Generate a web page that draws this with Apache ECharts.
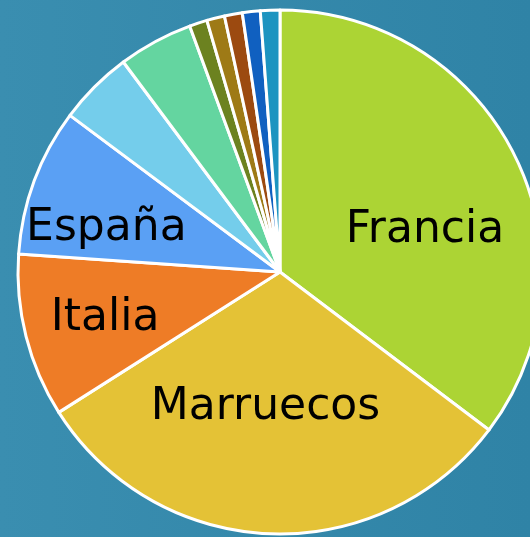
<!DOCTYPE html>
<html>
<head>
<meta charset="utf-8">
<script src="https://cdn.jsdelivr.net/npm/echarts@6/dist/echarts.min.js"></script>
<style>
html,body{margin:0;padding:0;background:#3489ab;}
#chart{width:530px;height:537px;}
</style>
</head>
<body>
<div id="chart"></div>
<script>
// Data (percent shares)
const countries = ['Francia', 'Marruecos', 'Italia', 'España', 'Otro 1', 'Otro 2', 'Otro 3', 'Otro 4', 'Otro 5', 'Otro 6', 'Otro 7'];
const shares = [35.3, 30.7, 10.1, 9.1, 4.6, 4.6, 1.1, 1.1, 1.1, 1.1, 1.2];
const labelled = ['Francia', 'Marruecos', 'Italia', 'España'];

const colors = ['#acd434', '#e4c236', '#ee7c26', '#5aa0f4', '#74cdeb', '#64d5a0', '#6c8220', '#9e7a16', '#9c4a10', '#1060c0', '#1d94c0'];
const labelShift = { 'Francia': [25, 18], 'Marruecos': [-9, 2], 'Italia': [-45, 14], 'España': [-48, 3] };

const chart = echarts.init(document.getElementById('chart'), null, { renderer: 'canvas' });
chart.setOption({
  backgroundColor: {
    type: 'linear', x: 0, y: 0, x2: 1, y2: 0,
    colorStops: [{ offset: 0, color: '#3a8eb0' }, { offset: 1, color: '#2f83a6' }]
  },
  animation: false,
  series: [{
    type: 'pie',
    center: [280, 272],
    radius: [0, 262],
    startAngle: 90,
    clockwise: true,
    avoidLabelOverlap: false,
    itemStyle: { borderColor: '#ffffff', borderWidth: 3 },
    label: {
      show: true,
      position: 'inside',
      color: '#000000',
      fontFamily: 'DejaVu Sans',
      fontSize: 44,
      fontWeight: 'normal',
      formatter: p => labelled.includes(p.name) ? p.name : ''
    },
    labelLine: { show: false },
    emphasis: { disabled: true },
    labelLayout: function (params) {
      const name = countries[params.dataIndex];
      const s = labelShift[name];
      return s ? { dx: s[0], dy: s[1] } : {};
    },
    data: countries.map((c, i) => ({ name: c, value: shares[i], itemStyle: { color: colors[i] } }))
  }]
});
</script>
</body>
</html>
